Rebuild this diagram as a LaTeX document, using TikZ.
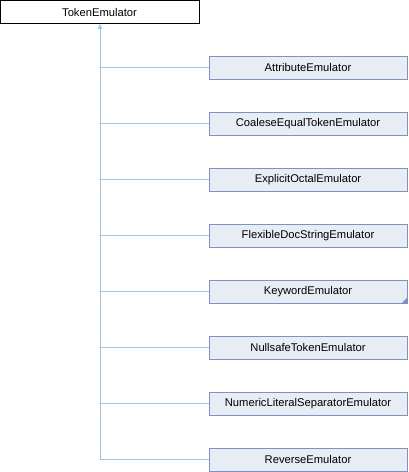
\documentclass[tikz,border=0pt]{standalone}
\usepackage{fontspec}
\setmainfont{Liberation Sans}
\usetikzlibrary{arrows.meta}
\definecolor{boxfill}{RGB}{232,236,245}
\definecolor{boxedge}{RGB}{124,146,196}
\definecolor{linkcol}{RGB}{154,198,226}
\begin{document}
\begin{tikzpicture}[x=1pt,y=-1pt,
  basebox/.style={draw=black,fill=white,line width=0.8pt,minimum width=199pt,minimum height=23pt,inner sep=0pt,font=\fontsize{11.2}{13}\selectfont},
  childbox/.style={draw=boxedge,fill=boxfill,line width=0.8pt,minimum width=198pt,minimum height=23pt,inner sep=0pt,font=\fontsize{11.2}{13}\selectfont},
  link/.style={draw=linkcol,line width=0.8pt}]
\useasboundingbox (0,0) rectangle (408,472);
\node[basebox] (base) at (99.5,12) {TokenEmulator};
\node[childbox] (c1) at (308,67.5) {AttributeEmulator};
\node[childbox] (c2) at (308,123.5) {CoaleseEqualTokenEmulator};
\node[childbox] (c3) at (308,179.5) {ExplicitOctalEmulator};
\node[childbox] (c4) at (308,235.5) {FlexibleDocStringEmulator};
\node[childbox] (c5) at (308,291.5) {KeywordEmulator};
\node[childbox] (c6) at (308,347.5) {NullsafeTokenEmulator};
\node[childbox] (c7) at (308,403.5) {NumericLiteralSeparatorEmulator};
\node[childbox] (c8) at (308,459.5) {ReverseEmulator};
\fill[boxedge] (c5.south east) -- ++(-6,0) -- ++(6,-6) -- cycle;
\coordinate (trunk) at (100,459.5);
\draw[link,-{Triangle[length=5pt,width=4pt]}] (trunk) -- (base.south -| trunk);
\foreach \i in {1,...,8} {
  \draw[link] (c\i.west) -- (c\i.west -| trunk);
}
\end{tikzpicture}
\end{document}
